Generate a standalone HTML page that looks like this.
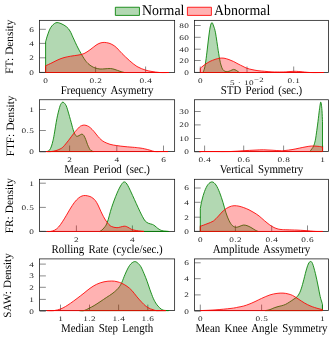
<!DOCTYPE html>
<html><head><meta charset="utf-8"><title>Density</title>
<style>
html,body{margin:0;padding:0;background:#fff;}
body{width:333px;height:339px;overflow:hidden;}
svg{display:block;will-change:transform;text-rendering:geometricPrecision;}
text{font-family:"Liberation Serif",serif;fill:#000;}
.t{font-size:7.0px;letter-spacing:0.3px;fill:#1c1c1c;}
.xl{font-size:10.9px;word-spacing:1.6px;}
.yl{font-size:11.4px;word-spacing:0.4px;}
.lg{font-size:13.9px;}
</style></head><body>
<svg width="333" height="339" viewBox="0 0 333 339">
<rect width="100%" height="100%" fill="#fff"/>
<rect x="39.55" y="20.35" width="135.10" height="52.15" fill="none" stroke="#111" stroke-width="0.75"/>
<line x1="45.60" y1="72.50" x2="45.60" y2="66.50" stroke="#2a2a2a" stroke-width="0.55"/>
<text transform="translate(45.79,82.90) scale(1.32,1)" class="t" text-anchor="middle">0</text>
<line x1="95.60" y1="72.50" x2="95.60" y2="66.50" stroke="#2a2a2a" stroke-width="0.55"/>
<text transform="translate(95.79,82.90) scale(1.32,1)" class="t" text-anchor="middle">0.2</text>
<line x1="145.60" y1="72.50" x2="145.60" y2="66.50" stroke="#2a2a2a" stroke-width="0.55"/>
<text transform="translate(145.79,82.90) scale(1.32,1)" class="t" text-anchor="middle">0.4</text>
<line x1="39.55" y1="72.40" x2="45.85" y2="72.40" stroke="#2a2a2a" stroke-width="0.55"/>
<text transform="translate(34.33,74.85) scale(1.32,1)" class="t" text-anchor="end">0</text>
<line x1="39.55" y1="57.80" x2="45.85" y2="57.80" stroke="#2a2a2a" stroke-width="0.55"/>
<text transform="translate(34.33,60.25) scale(1.32,1)" class="t" text-anchor="end">2</text>
<line x1="39.55" y1="43.40" x2="45.85" y2="43.40" stroke="#2a2a2a" stroke-width="0.55"/>
<text transform="translate(34.33,45.85) scale(1.32,1)" class="t" text-anchor="end">4</text>
<line x1="39.55" y1="29.30" x2="45.85" y2="29.30" stroke="#2a2a2a" stroke-width="0.55"/>
<text transform="translate(34.33,31.75) scale(1.32,1)" class="t" text-anchor="end">6</text>
<path d="M45.60,41.80 C45.93,40.67 46.73,37.40 47.60,35.00 C48.47,32.60 49.43,29.43 50.80,27.40 C52.17,25.37 54.10,23.43 55.80,22.80 C57.50,22.17 59.22,22.93 61.00,23.60 C62.78,24.27 65.00,25.57 66.50,26.80 C68.00,28.03 68.88,29.17 70.00,31.00 C71.12,32.83 71.87,34.97 73.20,37.80 C74.53,40.63 76.20,44.55 78.00,48.00 C79.80,51.45 82.33,55.92 84.00,58.50 C85.67,61.08 86.67,62.17 88.00,63.50 C89.33,64.83 90.73,65.73 92.00,66.50 C93.27,67.27 94.27,67.68 95.60,68.10 C96.93,68.52 98.43,68.88 100.00,69.00 C101.57,69.12 103.25,68.88 105.00,68.80 C106.75,68.72 108.83,68.38 110.50,68.50 C112.17,68.62 113.42,69.03 115.00,69.50 C116.58,69.97 118.43,70.80 120.00,71.30 C121.57,71.80 123.67,72.30 124.40,72.50 L124.40,72.50 L45.60,72.50 Z" fill="#007f00" fill-opacity="0.3" stroke="none"/>
<path d="M45.60,72.50 L45.60,41.80 C45.93,40.67 46.73,37.40 47.60,35.00 C48.47,32.60 49.43,29.43 50.80,27.40 C52.17,25.37 54.10,23.43 55.80,22.80 C57.50,22.17 59.22,22.93 61.00,23.60 C62.78,24.27 65.00,25.57 66.50,26.80 C68.00,28.03 68.88,29.17 70.00,31.00 C71.12,32.83 71.87,34.97 73.20,37.80 C74.53,40.63 76.20,44.55 78.00,48.00 C79.80,51.45 82.33,55.92 84.00,58.50 C85.67,61.08 86.67,62.17 88.00,63.50 C89.33,64.83 90.73,65.73 92.00,66.50 C93.27,67.27 94.27,67.68 95.60,68.10 C96.93,68.52 98.43,68.88 100.00,69.00 C101.57,69.12 103.25,68.88 105.00,68.80 C106.75,68.72 108.83,68.38 110.50,68.50 C112.17,68.62 113.42,69.03 115.00,69.50 C116.58,69.97 118.43,70.80 120.00,71.30 C121.57,71.80 123.67,72.30 124.40,72.50 L45.60,72.50" fill="none" stroke="#007f00" stroke-width="0.85" stroke-linejoin="round"/>
<path d="M45.60,65.80 C46.67,65.30 49.93,63.80 52.00,62.80 C54.07,61.80 56.00,60.67 58.00,59.80 C60.00,58.93 61.90,58.20 64.00,57.60 C66.10,57.00 68.27,56.62 70.60,56.20 C72.93,55.78 75.77,55.53 78.00,55.10 C80.23,54.67 82.00,54.48 84.00,53.60 C86.00,52.72 88.00,51.20 90.00,49.80 C92.00,48.40 94.33,46.32 96.00,45.20 C97.67,44.08 98.63,43.57 100.00,43.10 C101.37,42.63 102.70,42.38 104.20,42.40 C105.70,42.42 107.53,42.77 109.00,43.20 C110.47,43.63 111.70,44.22 113.00,45.00 C114.30,45.78 115.30,46.48 116.80,47.90 C118.30,49.32 119.90,51.40 122.00,53.50 C124.10,55.60 126.90,58.33 129.40,60.50 C131.90,62.67 134.32,64.90 137.00,66.50 C139.68,68.10 143.00,69.27 145.50,70.10 C148.00,70.93 149.63,71.10 152.00,71.50 C154.37,71.90 156.87,72.33 159.70,72.50 C162.53,72.67 167.45,72.50 169.00,72.50 L169.00,72.50 L45.60,72.50 Z" fill="#ff0000" fill-opacity="0.3" stroke="none"/>
<path d="M45.60,72.50 L45.60,65.80 C46.67,65.30 49.93,63.80 52.00,62.80 C54.07,61.80 56.00,60.67 58.00,59.80 C60.00,58.93 61.90,58.20 64.00,57.60 C66.10,57.00 68.27,56.62 70.60,56.20 C72.93,55.78 75.77,55.53 78.00,55.10 C80.23,54.67 82.00,54.48 84.00,53.60 C86.00,52.72 88.00,51.20 90.00,49.80 C92.00,48.40 94.33,46.32 96.00,45.20 C97.67,44.08 98.63,43.57 100.00,43.10 C101.37,42.63 102.70,42.38 104.20,42.40 C105.70,42.42 107.53,42.77 109.00,43.20 C110.47,43.63 111.70,44.22 113.00,45.00 C114.30,45.78 115.30,46.48 116.80,47.90 C118.30,49.32 119.90,51.40 122.00,53.50 C124.10,55.60 126.90,58.33 129.40,60.50 C131.90,62.67 134.32,64.90 137.00,66.50 C139.68,68.10 143.00,69.27 145.50,70.10 C148.00,70.93 149.63,71.10 152.00,71.50 C154.37,71.90 156.87,72.33 159.70,72.50 C162.53,72.67 167.45,72.50 169.00,72.50 L45.60,72.50" fill="none" stroke="#ff0000" stroke-width="0.85" stroke-linejoin="round"/>
<text transform="translate(107.10,93.90) scale(1,1.1)" class="xl" text-anchor="middle">Frequency Asymetry</text>
<text transform="translate(13.00,46.72) rotate(-90)" class="yl" style="font-size:11.27px" text-anchor="middle">FT: Density</text>
<rect x="194.40" y="20.35" width="134.15" height="52.15" fill="none" stroke="#111" stroke-width="0.75"/>
<line x1="200.30" y1="72.50" x2="200.30" y2="66.50" stroke="#2a2a2a" stroke-width="0.55"/>
<text transform="translate(200.49,82.90) scale(1.32,1)" class="t" text-anchor="middle">0</text>
<line x1="247.00" y1="72.50" x2="247.00" y2="66.50" stroke="#2a2a2a" stroke-width="0.55"/>
<text transform="translate(247.00,84.60) scale(1.32,1)" class="t" text-anchor="middle">5 · 10<tspan dy='-2.6' font-size='6.6'>−2</tspan></text>
<line x1="293.70" y1="72.50" x2="293.70" y2="66.50" stroke="#2a2a2a" stroke-width="0.55"/>
<text transform="translate(293.89,82.90) scale(1.32,1)" class="t" text-anchor="middle">0.1</text>
<line x1="194.40" y1="72.40" x2="200.70" y2="72.40" stroke="#2a2a2a" stroke-width="0.55"/>
<text transform="translate(189.18,74.85) scale(1.32,1)" class="t" text-anchor="end">0</text>
<line x1="194.40" y1="60.50" x2="200.70" y2="60.50" stroke="#2a2a2a" stroke-width="0.55"/>
<text transform="translate(189.18,62.95) scale(1.32,1)" class="t" text-anchor="end">20</text>
<line x1="194.40" y1="49.20" x2="200.70" y2="49.20" stroke="#2a2a2a" stroke-width="0.55"/>
<text transform="translate(189.18,51.65) scale(1.32,1)" class="t" text-anchor="end">40</text>
<line x1="194.40" y1="37.30" x2="200.70" y2="37.30" stroke="#2a2a2a" stroke-width="0.55"/>
<text transform="translate(189.18,39.75) scale(1.32,1)" class="t" text-anchor="end">60</text>
<line x1="194.40" y1="25.50" x2="200.70" y2="25.50" stroke="#2a2a2a" stroke-width="0.55"/>
<text transform="translate(189.18,27.95) scale(1.32,1)" class="t" text-anchor="end">80</text>
<path d="M203.00,72.50 C203.27,71.75 204.13,69.92 204.60,68.00 C205.07,66.08 205.37,64.00 205.80,61.00 C206.23,58.00 206.73,53.83 207.20,50.00 C207.67,46.17 208.10,41.83 208.60,38.00 C209.10,34.17 209.65,29.57 210.20,27.00 C210.75,24.43 211.33,22.77 211.90,22.60 C212.47,22.43 213.00,24.30 213.60,26.00 C214.20,27.70 214.73,28.73 215.50,32.80 C216.27,36.87 217.45,45.70 218.20,50.40 C218.95,55.10 219.48,58.40 220.00,61.00 C220.52,63.60 220.85,64.60 221.30,66.00 C221.75,67.40 222.12,68.53 222.70,69.40 C223.28,70.27 224.05,70.82 224.80,71.20 C225.55,71.58 226.25,71.78 227.20,71.70 C228.15,71.62 229.45,71.08 230.50,70.70 C231.55,70.32 232.53,69.45 233.50,69.40 C234.47,69.35 235.35,69.88 236.30,70.40 C237.25,70.92 238.72,72.15 239.20,72.50 L239.20,72.50 L203.00,72.50 Z" fill="#007f00" fill-opacity="0.3" stroke="none"/>
<path d="M203.00,72.50 C203.27,71.75 204.13,69.92 204.60,68.00 C205.07,66.08 205.37,64.00 205.80,61.00 C206.23,58.00 206.73,53.83 207.20,50.00 C207.67,46.17 208.10,41.83 208.60,38.00 C209.10,34.17 209.65,29.57 210.20,27.00 C210.75,24.43 211.33,22.77 211.90,22.60 C212.47,22.43 213.00,24.30 213.60,26.00 C214.20,27.70 214.73,28.73 215.50,32.80 C216.27,36.87 217.45,45.70 218.20,50.40 C218.95,55.10 219.48,58.40 220.00,61.00 C220.52,63.60 220.85,64.60 221.30,66.00 C221.75,67.40 222.12,68.53 222.70,69.40 C223.28,70.27 224.05,70.82 224.80,71.20 C225.55,71.58 226.25,71.78 227.20,71.70 C228.15,71.62 229.45,71.08 230.50,70.70 C231.55,70.32 232.53,69.45 233.50,69.40 C234.47,69.35 235.35,69.88 236.30,70.40 C237.25,70.92 238.72,72.15 239.20,72.50 L203.00,72.50" fill="none" stroke="#007f00" stroke-width="0.85" stroke-linejoin="round"/>
<path d="M200.30,68.30 C200.75,67.92 202.05,66.75 203.00,66.00 C203.95,65.25 204.83,64.57 206.00,63.80 C207.17,63.03 208.50,62.13 210.00,61.40 C211.50,60.67 213.38,59.93 215.00,59.40 C216.62,58.87 218.20,58.40 219.70,58.20 C221.20,58.00 222.45,57.97 224.00,58.20 C225.55,58.43 227.40,59.05 229.00,59.60 C230.60,60.15 232.10,60.78 233.60,61.50 C235.10,62.22 236.43,63.08 238.00,63.90 C239.57,64.72 241.50,65.67 243.00,66.40 C244.50,67.13 245.50,67.77 247.00,68.30 C248.50,68.83 250.17,69.20 252.00,69.60 C253.83,70.00 255.90,70.42 258.00,70.70 C260.10,70.98 262.27,71.10 264.60,71.30 C266.93,71.50 269.10,71.78 272.00,71.90 C274.90,72.02 279.33,72.03 282.00,72.00 C284.67,71.97 286.05,71.82 288.00,71.70 C289.95,71.58 291.70,71.32 293.70,71.30 C295.70,71.28 297.28,71.40 300.00,71.60 C302.72,71.80 306.03,72.35 310.00,72.50 C313.97,72.65 321.50,72.50 323.80,72.50 L323.80,72.50 L200.30,72.50 Z" fill="#ff0000" fill-opacity="0.3" stroke="none"/>
<path d="M200.30,72.50 L200.30,68.30 C200.75,67.92 202.05,66.75 203.00,66.00 C203.95,65.25 204.83,64.57 206.00,63.80 C207.17,63.03 208.50,62.13 210.00,61.40 C211.50,60.67 213.38,59.93 215.00,59.40 C216.62,58.87 218.20,58.40 219.70,58.20 C221.20,58.00 222.45,57.97 224.00,58.20 C225.55,58.43 227.40,59.05 229.00,59.60 C230.60,60.15 232.10,60.78 233.60,61.50 C235.10,62.22 236.43,63.08 238.00,63.90 C239.57,64.72 241.50,65.67 243.00,66.40 C244.50,67.13 245.50,67.77 247.00,68.30 C248.50,68.83 250.17,69.20 252.00,69.60 C253.83,70.00 255.90,70.42 258.00,70.70 C260.10,70.98 262.27,71.10 264.60,71.30 C266.93,71.50 269.10,71.78 272.00,71.90 C274.90,72.02 279.33,72.03 282.00,72.00 C284.67,71.97 286.05,71.82 288.00,71.70 C289.95,71.58 291.70,71.32 293.70,71.30 C295.70,71.28 297.28,71.40 300.00,71.60 C302.72,71.80 306.03,72.35 310.00,72.50 C313.97,72.65 321.50,72.50 323.80,72.50 L200.30,72.50" fill="none" stroke="#ff0000" stroke-width="0.85" stroke-linejoin="round"/>
<text transform="translate(261.48,93.90) scale(1,1.1)" class="xl" text-anchor="middle">STD Period (sec.)</text>
<rect x="39.55" y="99.75" width="135.10" height="51.80" fill="none" stroke="#111" stroke-width="0.75"/>
<line x1="69.60" y1="151.55" x2="69.60" y2="145.55" stroke="#2a2a2a" stroke-width="0.55"/>
<text transform="translate(69.79,161.95) scale(1.32,1)" class="t" text-anchor="middle">2</text>
<line x1="116.80" y1="151.55" x2="116.80" y2="145.55" stroke="#2a2a2a" stroke-width="0.55"/>
<text transform="translate(116.99,161.95) scale(1.32,1)" class="t" text-anchor="middle">4</text>
<line x1="163.50" y1="151.55" x2="163.50" y2="145.55" stroke="#2a2a2a" stroke-width="0.55"/>
<text transform="translate(163.69,161.95) scale(1.32,1)" class="t" text-anchor="middle">6</text>
<line x1="39.55" y1="151.90" x2="45.85" y2="151.90" stroke="#2a2a2a" stroke-width="0.55"/>
<text transform="translate(34.33,154.35) scale(1.32,1)" class="t" text-anchor="end">0</text>
<line x1="39.55" y1="130.50" x2="45.85" y2="130.50" stroke="#2a2a2a" stroke-width="0.55"/>
<text transform="translate(34.33,132.95) scale(1.32,1)" class="t" text-anchor="end">0.5</text>
<line x1="39.55" y1="109.50" x2="45.85" y2="109.50" stroke="#2a2a2a" stroke-width="0.55"/>
<text transform="translate(34.33,111.95) scale(1.32,1)" class="t" text-anchor="end">1</text>
<path d="M47.00,151.55 C47.42,151.33 48.75,151.12 49.50,150.20 C50.25,149.27 50.92,147.62 51.50,146.00 C52.08,144.38 52.55,142.42 53.00,140.50 C53.45,138.58 53.55,138.17 54.20,134.50 C54.85,130.83 56.00,123.03 56.90,118.50 C57.80,113.97 58.87,109.82 59.60,107.30 C60.33,104.78 60.75,104.27 61.30,103.40 C61.85,102.53 62.32,102.07 62.90,102.10 C63.48,102.13 64.15,102.73 64.80,103.60 C65.45,104.47 65.87,104.63 66.80,107.30 C67.73,109.97 69.35,115.90 70.40,119.60 C71.45,123.30 72.35,127.07 73.10,129.50 C73.85,131.93 74.30,133.07 74.90,134.20 C75.50,135.33 76.02,136.07 76.70,136.30 C77.38,136.53 78.15,135.97 79.00,135.60 C79.85,135.23 81.00,134.12 81.80,134.10 C82.60,134.08 83.15,134.62 83.80,135.50 C84.45,136.38 85.08,137.90 85.70,139.40 C86.32,140.90 86.88,142.98 87.50,144.50 C88.12,146.02 88.82,147.48 89.40,148.50 C89.98,149.52 90.32,150.09 91.00,150.60 C91.68,151.11 93.08,151.39 93.50,151.55 L93.50,151.55 L47.00,151.55 Z" fill="#007f00" fill-opacity="0.3" stroke="none"/>
<path d="M47.00,151.55 C47.42,151.33 48.75,151.12 49.50,150.20 C50.25,149.27 50.92,147.62 51.50,146.00 C52.08,144.38 52.55,142.42 53.00,140.50 C53.45,138.58 53.55,138.17 54.20,134.50 C54.85,130.83 56.00,123.03 56.90,118.50 C57.80,113.97 58.87,109.82 59.60,107.30 C60.33,104.78 60.75,104.27 61.30,103.40 C61.85,102.53 62.32,102.07 62.90,102.10 C63.48,102.13 64.15,102.73 64.80,103.60 C65.45,104.47 65.87,104.63 66.80,107.30 C67.73,109.97 69.35,115.90 70.40,119.60 C71.45,123.30 72.35,127.07 73.10,129.50 C73.85,131.93 74.30,133.07 74.90,134.20 C75.50,135.33 76.02,136.07 76.70,136.30 C77.38,136.53 78.15,135.97 79.00,135.60 C79.85,135.23 81.00,134.12 81.80,134.10 C82.60,134.08 83.15,134.62 83.80,135.50 C84.45,136.38 85.08,137.90 85.70,139.40 C86.32,140.90 86.88,142.98 87.50,144.50 C88.12,146.02 88.82,147.48 89.40,148.50 C89.98,149.52 90.32,150.09 91.00,150.60 C91.68,151.11 93.08,151.39 93.50,151.55 L47.00,151.55" fill="none" stroke="#007f00" stroke-width="0.85" stroke-linejoin="round"/>
<path d="M46.10,151.55 C46.92,151.55 49.35,151.71 51.00,151.55 C52.65,151.39 54.50,151.03 56.00,150.60 C57.50,150.17 58.80,149.63 60.00,149.00 C61.20,148.37 61.77,148.25 63.20,146.80 C64.63,145.35 66.80,142.58 68.60,140.30 C70.40,138.02 72.20,135.32 74.00,133.10 C75.80,130.88 78.07,128.27 79.40,127.00 C80.73,125.73 81.15,125.82 82.00,125.50 C82.85,125.18 83.58,125.03 84.50,125.10 C85.42,125.17 86.53,125.47 87.50,125.90 C88.47,126.33 89.22,126.77 90.30,127.70 C91.38,128.63 92.72,130.03 94.00,131.50 C95.28,132.97 96.83,135.15 98.00,136.50 C99.17,137.85 99.97,138.70 101.00,139.60 C102.03,140.50 102.70,141.12 104.20,141.90 C105.70,142.68 107.90,143.68 110.00,144.30 C112.10,144.92 114.30,145.22 116.80,145.60 C119.30,145.98 122.05,146.30 125.00,146.60 C127.95,146.90 132.00,147.17 134.50,147.40 C137.00,147.63 138.33,147.77 140.00,148.00 C141.67,148.23 142.83,148.43 144.50,148.80 C146.17,149.17 148.32,149.74 150.00,150.20 C151.68,150.66 152.93,151.33 154.60,151.55 C156.27,151.78 157.77,151.55 160.00,151.55 C162.23,151.55 166.67,151.55 168.00,151.55 L168.00,151.55 L46.10,151.55 Z" fill="#ff0000" fill-opacity="0.3" stroke="none"/>
<path d="M46.10,151.55 C46.92,151.55 49.35,151.71 51.00,151.55 C52.65,151.39 54.50,151.03 56.00,150.60 C57.50,150.17 58.80,149.63 60.00,149.00 C61.20,148.37 61.77,148.25 63.20,146.80 C64.63,145.35 66.80,142.58 68.60,140.30 C70.40,138.02 72.20,135.32 74.00,133.10 C75.80,130.88 78.07,128.27 79.40,127.00 C80.73,125.73 81.15,125.82 82.00,125.50 C82.85,125.18 83.58,125.03 84.50,125.10 C85.42,125.17 86.53,125.47 87.50,125.90 C88.47,126.33 89.22,126.77 90.30,127.70 C91.38,128.63 92.72,130.03 94.00,131.50 C95.28,132.97 96.83,135.15 98.00,136.50 C99.17,137.85 99.97,138.70 101.00,139.60 C102.03,140.50 102.70,141.12 104.20,141.90 C105.70,142.68 107.90,143.68 110.00,144.30 C112.10,144.92 114.30,145.22 116.80,145.60 C119.30,145.98 122.05,146.30 125.00,146.60 C127.95,146.90 132.00,147.17 134.50,147.40 C137.00,147.63 138.33,147.77 140.00,148.00 C141.67,148.23 142.83,148.43 144.50,148.80 C146.17,149.17 148.32,149.74 150.00,150.20 C151.68,150.66 152.93,151.33 154.60,151.55 C156.27,151.78 157.77,151.55 160.00,151.55 C162.23,151.55 166.67,151.55 168.00,151.55 L46.10,151.55" fill="none" stroke="#ff0000" stroke-width="0.85" stroke-linejoin="round"/>
<text transform="translate(107.10,172.95) scale(1,1.1)" class="xl" text-anchor="middle">Mean Period (sec.)</text>
<text transform="translate(13.50,125.95) rotate(-90)" class="yl" style="font-size:11.27px" text-anchor="middle">FTF: Density</text>
<rect x="194.40" y="99.75" width="134.15" height="51.80" fill="none" stroke="#111" stroke-width="0.75"/>
<line x1="204.60" y1="151.55" x2="204.60" y2="145.55" stroke="#2a2a2a" stroke-width="0.55"/>
<text transform="translate(204.79,161.95) scale(1.32,1)" class="t" text-anchor="middle">0.4</text>
<line x1="243.70" y1="151.55" x2="243.70" y2="145.55" stroke="#2a2a2a" stroke-width="0.55"/>
<text transform="translate(243.89,161.95) scale(1.32,1)" class="t" text-anchor="middle">0.6</text>
<line x1="283.60" y1="151.55" x2="283.60" y2="145.55" stroke="#2a2a2a" stroke-width="0.55"/>
<text transform="translate(283.79,161.95) scale(1.32,1)" class="t" text-anchor="middle">0.8</text>
<line x1="322.70" y1="151.55" x2="322.70" y2="145.55" stroke="#2a2a2a" stroke-width="0.55"/>
<text transform="translate(322.89,161.95) scale(1.32,1)" class="t" text-anchor="middle">1</text>
<line x1="194.40" y1="151.90" x2="200.70" y2="151.90" stroke="#2a2a2a" stroke-width="0.55"/>
<text transform="translate(189.18,154.35) scale(1.32,1)" class="t" text-anchor="end">0</text>
<line x1="194.40" y1="138.50" x2="200.70" y2="138.50" stroke="#2a2a2a" stroke-width="0.55"/>
<text transform="translate(189.18,140.95) scale(1.32,1)" class="t" text-anchor="end">10</text>
<line x1="194.40" y1="124.90" x2="200.70" y2="124.90" stroke="#2a2a2a" stroke-width="0.55"/>
<text transform="translate(189.18,127.35) scale(1.32,1)" class="t" text-anchor="end">20</text>
<line x1="194.40" y1="111.50" x2="200.70" y2="111.50" stroke="#2a2a2a" stroke-width="0.55"/>
<text transform="translate(189.18,113.95) scale(1.32,1)" class="t" text-anchor="end">30</text>
<path d="M309.90,151.55 C310.20,151.12 311.10,149.88 311.70,149.00 C312.30,148.12 312.90,147.75 313.50,146.30 C314.10,144.85 314.75,142.95 315.30,140.30 C315.85,137.65 316.35,133.55 316.80,130.40 C317.25,127.25 317.58,124.70 318.00,121.40 C318.42,118.10 318.95,113.33 319.30,110.60 C319.65,107.87 319.87,106.42 320.10,105.00 C320.33,103.58 320.50,102.27 320.70,102.10 C320.90,101.93 321.08,102.58 321.30,104.00 C321.52,105.42 321.80,107.70 322.00,110.60 C322.20,113.50 322.42,119.60 322.50,121.40 L322.50,151.55 L309.90,151.55 Z" fill="#007f00" fill-opacity="0.3" stroke="none"/>
<path d="M309.90,151.55 C310.20,151.12 311.10,149.88 311.70,149.00 C312.30,148.12 312.90,147.75 313.50,146.30 C314.10,144.85 314.75,142.95 315.30,140.30 C315.85,137.65 316.35,133.55 316.80,130.40 C317.25,127.25 317.58,124.70 318.00,121.40 C318.42,118.10 318.95,113.33 319.30,110.60 C319.65,107.87 319.87,106.42 320.10,105.00 C320.33,103.58 320.50,102.27 320.70,102.10 C320.90,101.93 321.08,102.58 321.30,104.00 C321.52,105.42 321.80,107.70 322.00,110.60 C322.20,113.50 322.42,119.60 322.50,121.40 L322.50,151.55 L309.90,151.55" fill="none" stroke="#007f00" stroke-width="0.85" stroke-linejoin="round"/>
<path d="M199.50,151.55 C202.08,151.55 209.92,151.55 215.00,151.55 C220.08,151.55 225.22,151.69 230.00,151.55 C234.78,151.41 239.53,150.94 243.70,150.70 C247.87,150.46 251.68,150.25 255.00,150.10 C258.32,149.95 260.77,149.78 263.60,149.80 C266.43,149.82 269.27,150.05 272.00,150.20 C274.73,150.35 277.83,150.65 280.00,150.70 C282.17,150.75 283.00,150.68 285.00,150.50 C287.00,150.32 289.58,150.00 292.00,149.60 C294.42,149.20 297.17,148.57 299.50,148.10 C301.83,147.63 303.97,147.15 306.00,146.80 C308.03,146.45 309.70,146.08 311.70,146.00 C313.70,145.92 316.20,146.13 318.00,146.30 C319.80,146.47 321.75,146.88 322.50,147.00 L322.50,151.55 L199.50,151.55 Z" fill="#ff0000" fill-opacity="0.3" stroke="none"/>
<path d="M199.50,151.55 C202.08,151.55 209.92,151.55 215.00,151.55 C220.08,151.55 225.22,151.69 230.00,151.55 C234.78,151.41 239.53,150.94 243.70,150.70 C247.87,150.46 251.68,150.25 255.00,150.10 C258.32,149.95 260.77,149.78 263.60,149.80 C266.43,149.82 269.27,150.05 272.00,150.20 C274.73,150.35 277.83,150.65 280.00,150.70 C282.17,150.75 283.00,150.68 285.00,150.50 C287.00,150.32 289.58,150.00 292.00,149.60 C294.42,149.20 297.17,148.57 299.50,148.10 C301.83,147.63 303.97,147.15 306.00,146.80 C308.03,146.45 309.70,146.08 311.70,146.00 C313.70,145.92 316.20,146.13 318.00,146.30 C319.80,146.47 321.75,146.88 322.50,147.00 L322.50,151.55 L199.50,151.55" fill="none" stroke="#ff0000" stroke-width="0.85" stroke-linejoin="round"/>
<text transform="translate(261.48,172.95) scale(1,1.1)" class="xl" text-anchor="middle">Vertical Symmetry</text>
<rect x="39.55" y="179.30" width="135.10" height="52.15" fill="none" stroke="#111" stroke-width="0.75"/>
<line x1="76.40" y1="231.45" x2="76.40" y2="225.45" stroke="#2a2a2a" stroke-width="0.55"/>
<text transform="translate(76.59,241.85) scale(1.32,1)" class="t" text-anchor="middle">2</text>
<line x1="132.40" y1="231.45" x2="132.40" y2="225.45" stroke="#2a2a2a" stroke-width="0.55"/>
<text transform="translate(132.59,241.85) scale(1.32,1)" class="t" text-anchor="middle">4</text>
<line x1="39.55" y1="231.30" x2="45.85" y2="231.30" stroke="#2a2a2a" stroke-width="0.55"/>
<text transform="translate(34.33,233.75) scale(1.32,1)" class="t" text-anchor="end">0</text>
<line x1="39.55" y1="207.40" x2="45.85" y2="207.40" stroke="#2a2a2a" stroke-width="0.55"/>
<text transform="translate(34.33,209.85) scale(1.32,1)" class="t" text-anchor="end">0.5</text>
<line x1="39.55" y1="183.20" x2="45.85" y2="183.20" stroke="#2a2a2a" stroke-width="0.55"/>
<text transform="translate(34.33,185.65) scale(1.32,1)" class="t" text-anchor="end">1</text>
<path d="M99.90,231.45 C100.42,231.04 101.80,230.43 103.00,229.00 C104.20,227.57 105.67,226.47 107.10,222.90 C108.53,219.33 109.95,212.55 111.60,207.60 C113.25,202.65 115.35,197.07 117.00,193.20 C118.65,189.33 120.23,186.28 121.50,184.40 C122.77,182.52 123.55,181.72 124.60,181.90 C125.65,182.08 126.47,183.23 127.80,185.50 C129.13,187.77 131.20,192.52 132.60,195.50 C134.00,198.48 135.00,200.78 136.20,203.40 C137.40,206.02 138.75,209.00 139.80,211.20 C140.85,213.40 141.60,214.97 142.50,216.60 C143.40,218.23 144.20,219.88 145.20,221.00 C146.20,222.12 147.30,222.73 148.50,223.30 C149.70,223.87 151.32,223.95 152.40,224.40 C153.48,224.85 154.10,225.33 155.00,226.00 C155.90,226.67 156.88,227.73 157.80,228.40 C158.72,229.07 159.60,229.58 160.50,230.00 C161.40,230.42 161.85,230.66 163.20,230.90 C164.55,231.14 167.70,231.36 168.60,231.45 L168.60,231.45 L99.90,231.45 Z" fill="#007f00" fill-opacity="0.3" stroke="none"/>
<path d="M99.90,231.45 C100.42,231.04 101.80,230.43 103.00,229.00 C104.20,227.57 105.67,226.47 107.10,222.90 C108.53,219.33 109.95,212.55 111.60,207.60 C113.25,202.65 115.35,197.07 117.00,193.20 C118.65,189.33 120.23,186.28 121.50,184.40 C122.77,182.52 123.55,181.72 124.60,181.90 C125.65,182.08 126.47,183.23 127.80,185.50 C129.13,187.77 131.20,192.52 132.60,195.50 C134.00,198.48 135.00,200.78 136.20,203.40 C137.40,206.02 138.75,209.00 139.80,211.20 C140.85,213.40 141.60,214.97 142.50,216.60 C143.40,218.23 144.20,219.88 145.20,221.00 C146.20,222.12 147.30,222.73 148.50,223.30 C149.70,223.87 151.32,223.95 152.40,224.40 C153.48,224.85 154.10,225.33 155.00,226.00 C155.90,226.67 156.88,227.73 157.80,228.40 C158.72,229.07 159.60,229.58 160.50,230.00 C161.40,230.42 161.85,230.66 163.20,230.90 C164.55,231.14 167.70,231.36 168.60,231.45 L99.90,231.45" fill="none" stroke="#007f00" stroke-width="0.85" stroke-linejoin="round"/>
<path d="M46.70,231.45 C47.33,231.45 49.15,231.67 50.50,231.45 C51.85,231.22 53.45,230.84 54.80,230.10 C56.15,229.36 57.33,228.38 58.60,227.00 C59.87,225.62 61.15,223.67 62.40,221.80 C63.65,219.93 64.83,217.92 66.10,215.80 C67.37,213.68 68.60,211.35 70.00,209.10 C71.40,206.85 73.07,204.15 74.50,202.30 C75.93,200.45 77.35,199.05 78.60,198.00 C79.85,196.95 80.88,196.42 82.00,196.00 C83.12,195.58 83.97,195.42 85.30,195.50 C86.63,195.58 88.72,196.03 90.00,196.50 C91.28,196.97 92.10,197.62 93.00,198.30 C93.90,198.98 94.57,199.48 95.40,200.60 C96.23,201.72 97.10,203.23 98.00,205.00 C98.90,206.77 99.88,209.25 100.80,211.20 C101.72,213.15 102.60,215.05 103.50,216.70 C104.40,218.35 105.28,219.78 106.20,221.10 C107.12,222.42 108.10,223.70 109.00,224.60 C109.90,225.50 110.27,225.98 111.60,226.50 C112.93,227.02 114.90,227.75 117.00,227.70 C119.10,227.65 122.37,226.27 124.20,226.20 C126.03,226.13 126.80,226.78 128.00,227.30 C129.20,227.82 130.23,228.80 131.40,229.30 C132.57,229.80 133.80,230.03 135.00,230.30 C136.20,230.57 137.10,230.71 138.60,230.90 C140.10,231.09 143.10,231.36 144.00,231.45 L144.00,231.45 L46.70,231.45 Z" fill="#ff0000" fill-opacity="0.3" stroke="none"/>
<path d="M46.70,231.45 C47.33,231.45 49.15,231.67 50.50,231.45 C51.85,231.22 53.45,230.84 54.80,230.10 C56.15,229.36 57.33,228.38 58.60,227.00 C59.87,225.62 61.15,223.67 62.40,221.80 C63.65,219.93 64.83,217.92 66.10,215.80 C67.37,213.68 68.60,211.35 70.00,209.10 C71.40,206.85 73.07,204.15 74.50,202.30 C75.93,200.45 77.35,199.05 78.60,198.00 C79.85,196.95 80.88,196.42 82.00,196.00 C83.12,195.58 83.97,195.42 85.30,195.50 C86.63,195.58 88.72,196.03 90.00,196.50 C91.28,196.97 92.10,197.62 93.00,198.30 C93.90,198.98 94.57,199.48 95.40,200.60 C96.23,201.72 97.10,203.23 98.00,205.00 C98.90,206.77 99.88,209.25 100.80,211.20 C101.72,213.15 102.60,215.05 103.50,216.70 C104.40,218.35 105.28,219.78 106.20,221.10 C107.12,222.42 108.10,223.70 109.00,224.60 C109.90,225.50 110.27,225.98 111.60,226.50 C112.93,227.02 114.90,227.75 117.00,227.70 C119.10,227.65 122.37,226.27 124.20,226.20 C126.03,226.13 126.80,226.78 128.00,227.30 C129.20,227.82 130.23,228.80 131.40,229.30 C132.57,229.80 133.80,230.03 135.00,230.30 C136.20,230.57 137.10,230.71 138.60,230.90 C140.10,231.09 143.10,231.36 144.00,231.45 L46.70,231.45" fill="none" stroke="#ff0000" stroke-width="0.85" stroke-linejoin="round"/>
<text transform="translate(107.10,252.85) scale(1,1.1)" class="xl" text-anchor="middle">Rolling Rate (cycle/sec.)</text>
<text transform="translate(13.30,205.68) rotate(-90)" class="yl" style="font-size:11.27px" text-anchor="middle">FR: Density</text>
<rect x="194.40" y="179.30" width="134.15" height="52.15" fill="none" stroke="#111" stroke-width="0.75"/>
<line x1="200.30" y1="231.45" x2="200.30" y2="225.45" stroke="#2a2a2a" stroke-width="0.55"/>
<text transform="translate(200.49,241.85) scale(1.32,1)" class="t" text-anchor="middle">0</text>
<line x1="235.40" y1="231.45" x2="235.40" y2="225.45" stroke="#2a2a2a" stroke-width="0.55"/>
<text transform="translate(235.59,241.85) scale(1.32,1)" class="t" text-anchor="middle">0.2</text>
<line x1="271.70" y1="231.45" x2="271.70" y2="225.45" stroke="#2a2a2a" stroke-width="0.55"/>
<text transform="translate(271.89,241.85) scale(1.32,1)" class="t" text-anchor="middle">0.4</text>
<line x1="307.50" y1="231.45" x2="307.50" y2="225.45" stroke="#2a2a2a" stroke-width="0.55"/>
<text transform="translate(307.69,241.85) scale(1.32,1)" class="t" text-anchor="middle">0.6</text>
<line x1="194.40" y1="231.30" x2="200.70" y2="231.30" stroke="#2a2a2a" stroke-width="0.55"/>
<text transform="translate(189.18,233.75) scale(1.32,1)" class="t" text-anchor="end">0</text>
<line x1="194.40" y1="217.20" x2="200.70" y2="217.20" stroke="#2a2a2a" stroke-width="0.55"/>
<text transform="translate(189.18,219.65) scale(1.32,1)" class="t" text-anchor="end">2</text>
<line x1="194.40" y1="202.30" x2="200.70" y2="202.30" stroke="#2a2a2a" stroke-width="0.55"/>
<text transform="translate(189.18,204.75) scale(1.32,1)" class="t" text-anchor="end">4</text>
<line x1="194.40" y1="188.00" x2="200.70" y2="188.00" stroke="#2a2a2a" stroke-width="0.55"/>
<text transform="translate(189.18,190.45) scale(1.32,1)" class="t" text-anchor="end">6</text>
<path d="M200.30,208.50 C200.58,207.08 201.30,202.83 202.00,200.00 C202.70,197.17 203.50,194.08 204.50,191.50 C205.50,188.92 206.73,186.10 208.00,184.50 C209.27,182.90 210.77,181.82 212.10,181.90 C213.43,181.98 214.73,183.20 216.00,185.00 C217.27,186.80 218.53,189.78 219.70,192.70 C220.87,195.62 221.95,199.13 223.00,202.50 C224.05,205.87 225.00,209.90 226.00,212.90 C227.00,215.90 227.95,218.40 229.00,220.50 C230.05,222.60 231.12,224.37 232.30,225.50 C233.48,226.63 234.82,227.18 236.10,227.30 C237.38,227.42 238.73,226.58 240.00,226.20 C241.27,225.82 242.37,225.03 243.70,225.00 C245.03,224.97 246.62,225.48 248.00,226.00 C249.38,226.52 250.83,227.43 252.00,228.10 C253.17,228.77 254.00,229.44 255.00,230.00 C256.00,230.56 257.50,231.21 258.00,231.45 L258.00,231.45 L200.30,231.45 Z" fill="#007f00" fill-opacity="0.3" stroke="none"/>
<path d="M200.30,231.45 L200.30,208.50 C200.58,207.08 201.30,202.83 202.00,200.00 C202.70,197.17 203.50,194.08 204.50,191.50 C205.50,188.92 206.73,186.10 208.00,184.50 C209.27,182.90 210.77,181.82 212.10,181.90 C213.43,181.98 214.73,183.20 216.00,185.00 C217.27,186.80 218.53,189.78 219.70,192.70 C220.87,195.62 221.95,199.13 223.00,202.50 C224.05,205.87 225.00,209.90 226.00,212.90 C227.00,215.90 227.95,218.40 229.00,220.50 C230.05,222.60 231.12,224.37 232.30,225.50 C233.48,226.63 234.82,227.18 236.10,227.30 C237.38,227.42 238.73,226.58 240.00,226.20 C241.27,225.82 242.37,225.03 243.70,225.00 C245.03,224.97 246.62,225.48 248.00,226.00 C249.38,226.52 250.83,227.43 252.00,228.10 C253.17,228.77 254.00,229.44 255.00,230.00 C256.00,230.56 257.50,231.21 258.00,231.45 L200.30,231.45" fill="none" stroke="#007f00" stroke-width="0.85" stroke-linejoin="round"/>
<path d="M200.30,226.30 C201.42,225.88 204.82,224.68 207.00,223.80 C209.18,222.92 211.48,222.30 213.40,221.00 C215.32,219.70 216.82,217.73 218.50,216.00 C220.18,214.27 221.75,212.10 223.50,210.60 C225.25,209.10 227.23,207.82 229.00,207.00 C230.77,206.18 232.43,205.83 234.10,205.70 C235.77,205.57 237.40,205.88 239.00,206.20 C240.60,206.52 242.03,207.00 243.70,207.60 C245.37,208.20 247.28,208.97 249.00,209.80 C250.72,210.63 252.32,211.57 254.00,212.60 C255.68,213.63 257.33,214.63 259.10,216.00 C260.87,217.37 262.92,219.38 264.60,220.80 C266.28,222.22 267.80,223.47 269.20,224.50 C270.60,225.53 271.70,226.30 273.00,227.00 C274.30,227.70 275.67,228.28 277.00,228.70 C278.33,229.12 279.33,229.32 281.00,229.50 C282.67,229.68 284.33,229.70 287.00,229.80 C289.67,229.90 294.17,229.98 297.00,230.10 C299.83,230.22 301.75,230.35 304.00,230.50 C306.25,230.65 308.50,230.84 310.50,231.00 C312.50,231.16 313.97,231.38 316.00,231.45 C318.03,231.52 321.58,231.45 322.70,231.45 L322.70,231.45 L200.30,231.45 Z" fill="#ff0000" fill-opacity="0.3" stroke="none"/>
<path d="M200.30,231.45 L200.30,226.30 C201.42,225.88 204.82,224.68 207.00,223.80 C209.18,222.92 211.48,222.30 213.40,221.00 C215.32,219.70 216.82,217.73 218.50,216.00 C220.18,214.27 221.75,212.10 223.50,210.60 C225.25,209.10 227.23,207.82 229.00,207.00 C230.77,206.18 232.43,205.83 234.10,205.70 C235.77,205.57 237.40,205.88 239.00,206.20 C240.60,206.52 242.03,207.00 243.70,207.60 C245.37,208.20 247.28,208.97 249.00,209.80 C250.72,210.63 252.32,211.57 254.00,212.60 C255.68,213.63 257.33,214.63 259.10,216.00 C260.87,217.37 262.92,219.38 264.60,220.80 C266.28,222.22 267.80,223.47 269.20,224.50 C270.60,225.53 271.70,226.30 273.00,227.00 C274.30,227.70 275.67,228.28 277.00,228.70 C278.33,229.12 279.33,229.32 281.00,229.50 C282.67,229.68 284.33,229.70 287.00,229.80 C289.67,229.90 294.17,229.98 297.00,230.10 C299.83,230.22 301.75,230.35 304.00,230.50 C306.25,230.65 308.50,230.84 310.50,231.00 C312.50,231.16 313.97,231.38 316.00,231.45 C318.03,231.52 321.58,231.45 322.70,231.45 L200.30,231.45" fill="none" stroke="#ff0000" stroke-width="0.85" stroke-linejoin="round"/>
<text transform="translate(261.48,252.85) scale(1,1.1)" class="xl" text-anchor="middle">Amplitude Assymetry</text>
<rect x="39.55" y="258.90" width="135.10" height="51.70" fill="none" stroke="#111" stroke-width="0.75"/>
<line x1="60.50" y1="310.60" x2="60.50" y2="304.60" stroke="#2a2a2a" stroke-width="0.55"/>
<text transform="translate(60.69,321.00) scale(1.32,1)" class="t" text-anchor="middle">1</text>
<line x1="89.50" y1="310.60" x2="89.50" y2="304.60" stroke="#2a2a2a" stroke-width="0.55"/>
<text transform="translate(89.69,321.00) scale(1.32,1)" class="t" text-anchor="middle">1.2</text>
<line x1="118.60" y1="310.60" x2="118.60" y2="304.60" stroke="#2a2a2a" stroke-width="0.55"/>
<text transform="translate(118.79,321.00) scale(1.32,1)" class="t" text-anchor="middle">1.4</text>
<line x1="147.80" y1="310.60" x2="147.80" y2="304.60" stroke="#2a2a2a" stroke-width="0.55"/>
<text transform="translate(147.99,321.00) scale(1.32,1)" class="t" text-anchor="middle">1.6</text>
<line x1="39.55" y1="311.30" x2="45.85" y2="311.30" stroke="#2a2a2a" stroke-width="0.55"/>
<text transform="translate(34.33,313.75) scale(1.32,1)" class="t" text-anchor="end">0</text>
<line x1="39.55" y1="299.40" x2="45.85" y2="299.40" stroke="#2a2a2a" stroke-width="0.55"/>
<text transform="translate(34.33,301.85) scale(1.32,1)" class="t" text-anchor="end">1</text>
<line x1="39.55" y1="287.30" x2="45.85" y2="287.30" stroke="#2a2a2a" stroke-width="0.55"/>
<text transform="translate(34.33,289.75) scale(1.32,1)" class="t" text-anchor="end">2</text>
<line x1="39.55" y1="275.90" x2="45.85" y2="275.90" stroke="#2a2a2a" stroke-width="0.55"/>
<text transform="translate(34.33,278.35) scale(1.32,1)" class="t" text-anchor="end">3</text>
<line x1="39.55" y1="264.10" x2="45.85" y2="264.10" stroke="#2a2a2a" stroke-width="0.55"/>
<text transform="translate(34.33,266.55) scale(1.32,1)" class="t" text-anchor="end">4</text>
<path d="M79.50,310.60 C80.25,310.60 82.42,310.98 84.00,310.60 C85.58,310.22 87.32,309.13 89.00,308.30 C90.68,307.47 92.27,306.68 94.10,305.60 C95.93,304.52 97.90,303.18 100.00,301.80 C102.10,300.42 104.70,298.63 106.70,297.30 C108.70,295.97 110.32,295.05 112.00,293.80 C113.68,292.55 115.55,291.00 116.80,289.80 C118.05,288.60 118.67,287.82 119.50,286.60 C120.33,285.38 120.88,284.52 121.80,282.50 C122.72,280.48 123.95,276.93 125.00,274.50 C126.05,272.07 127.10,269.70 128.10,267.90 C129.10,266.10 129.93,264.75 131.00,263.70 C132.07,262.65 133.42,261.75 134.50,261.60 C135.58,261.45 136.45,261.97 137.50,262.80 C138.55,263.63 139.72,264.82 140.80,266.60 C141.88,268.38 142.95,271.05 144.00,273.50 C145.05,275.95 146.10,278.58 147.10,281.30 C148.10,284.02 148.95,286.92 150.00,289.80 C151.05,292.68 152.32,296.20 153.40,298.60 C154.48,301.00 155.45,302.67 156.50,304.20 C157.55,305.73 158.62,306.82 159.70,307.80 C160.78,308.78 161.52,309.63 163.00,310.10 C164.48,310.57 167.67,310.52 168.60,310.60 L168.60,310.60 L79.50,310.60 Z" fill="#007f00" fill-opacity="0.3" stroke="none"/>
<path d="M79.50,310.60 C80.25,310.60 82.42,310.98 84.00,310.60 C85.58,310.22 87.32,309.13 89.00,308.30 C90.68,307.47 92.27,306.68 94.10,305.60 C95.93,304.52 97.90,303.18 100.00,301.80 C102.10,300.42 104.70,298.63 106.70,297.30 C108.70,295.97 110.32,295.05 112.00,293.80 C113.68,292.55 115.55,291.00 116.80,289.80 C118.05,288.60 118.67,287.82 119.50,286.60 C120.33,285.38 120.88,284.52 121.80,282.50 C122.72,280.48 123.95,276.93 125.00,274.50 C126.05,272.07 127.10,269.70 128.10,267.90 C129.10,266.10 129.93,264.75 131.00,263.70 C132.07,262.65 133.42,261.75 134.50,261.60 C135.58,261.45 136.45,261.97 137.50,262.80 C138.55,263.63 139.72,264.82 140.80,266.60 C141.88,268.38 142.95,271.05 144.00,273.50 C145.05,275.95 146.10,278.58 147.10,281.30 C148.10,284.02 148.95,286.92 150.00,289.80 C151.05,292.68 152.32,296.20 153.40,298.60 C154.48,301.00 155.45,302.67 156.50,304.20 C157.55,305.73 158.62,306.82 159.70,307.80 C160.78,308.78 161.52,309.63 163.00,310.10 C164.48,310.57 167.67,310.52 168.60,310.60 L79.50,310.60" fill="none" stroke="#007f00" stroke-width="0.85" stroke-linejoin="round"/>
<path d="M46.70,310.60 C47.92,310.60 51.70,310.87 54.00,310.60 C56.30,310.33 58.58,309.68 60.50,309.00 C62.42,308.32 63.82,307.47 65.50,306.50 C67.18,305.53 68.68,304.53 70.60,303.20 C72.52,301.87 74.77,300.18 77.00,298.50 C79.23,296.82 81.83,294.80 84.00,293.10 C86.17,291.40 87.90,289.77 90.00,288.30 C92.10,286.83 94.27,285.38 96.60,284.30 C98.93,283.22 101.48,282.35 104.00,281.80 C106.52,281.25 109.53,281.02 111.70,281.00 C113.87,280.98 115.32,281.32 117.00,281.70 C118.68,282.08 120.13,282.53 121.80,283.30 C123.47,284.07 125.32,285.10 127.00,286.30 C128.68,287.50 130.23,288.73 131.90,290.50 C133.57,292.27 135.32,294.90 137.00,296.90 C138.68,298.90 140.63,301.05 142.00,302.50 C143.37,303.95 144.20,304.75 145.20,305.60 C146.20,306.45 147.10,307.05 148.00,307.60 C148.90,308.15 149.77,308.55 150.60,308.90 C151.43,309.25 152.10,309.42 153.00,309.70 C153.90,309.98 154.83,310.45 156.00,310.60 C157.17,310.75 158.37,310.60 160.00,310.60 C161.63,310.60 164.83,310.60 165.80,310.60 L165.80,310.60 L46.70,310.60 Z" fill="#ff0000" fill-opacity="0.3" stroke="none"/>
<path d="M46.70,310.60 C47.92,310.60 51.70,310.87 54.00,310.60 C56.30,310.33 58.58,309.68 60.50,309.00 C62.42,308.32 63.82,307.47 65.50,306.50 C67.18,305.53 68.68,304.53 70.60,303.20 C72.52,301.87 74.77,300.18 77.00,298.50 C79.23,296.82 81.83,294.80 84.00,293.10 C86.17,291.40 87.90,289.77 90.00,288.30 C92.10,286.83 94.27,285.38 96.60,284.30 C98.93,283.22 101.48,282.35 104.00,281.80 C106.52,281.25 109.53,281.02 111.70,281.00 C113.87,280.98 115.32,281.32 117.00,281.70 C118.68,282.08 120.13,282.53 121.80,283.30 C123.47,284.07 125.32,285.10 127.00,286.30 C128.68,287.50 130.23,288.73 131.90,290.50 C133.57,292.27 135.32,294.90 137.00,296.90 C138.68,298.90 140.63,301.05 142.00,302.50 C143.37,303.95 144.20,304.75 145.20,305.60 C146.20,306.45 147.10,307.05 148.00,307.60 C148.90,308.15 149.77,308.55 150.60,308.90 C151.43,309.25 152.10,309.42 153.00,309.70 C153.90,309.98 154.83,310.45 156.00,310.60 C157.17,310.75 158.37,310.60 160.00,310.60 C161.63,310.60 164.83,310.60 165.80,310.60 L46.70,310.60" fill="none" stroke="#ff0000" stroke-width="0.85" stroke-linejoin="round"/>
<text transform="translate(107.10,332.00) scale(1,1.1)" class="xl" text-anchor="middle">Median Step Length</text>
<text transform="translate(11.10,285.45) rotate(-90)" class="yl" style="font-size:11.15px" text-anchor="middle">SAW: Density</text>
<rect x="194.40" y="258.90" width="134.15" height="51.70" fill="none" stroke="#111" stroke-width="0.75"/>
<line x1="200.30" y1="310.60" x2="200.30" y2="304.60" stroke="#2a2a2a" stroke-width="0.55"/>
<text transform="translate(200.49,321.00) scale(1.32,1)" class="t" text-anchor="middle">0</text>
<line x1="261.60" y1="310.60" x2="261.60" y2="304.60" stroke="#2a2a2a" stroke-width="0.55"/>
<text transform="translate(261.79,321.00) scale(1.32,1)" class="t" text-anchor="middle">0.5</text>
<line x1="322.40" y1="310.60" x2="322.40" y2="304.60" stroke="#2a2a2a" stroke-width="0.55"/>
<text transform="translate(322.59,321.00) scale(1.32,1)" class="t" text-anchor="middle">1</text>
<line x1="194.40" y1="311.30" x2="200.70" y2="311.30" stroke="#2a2a2a" stroke-width="0.55"/>
<text transform="translate(189.18,313.75) scale(1.32,1)" class="t" text-anchor="end">0</text>
<line x1="194.40" y1="294.90" x2="200.70" y2="294.90" stroke="#2a2a2a" stroke-width="0.55"/>
<text transform="translate(189.18,297.35) scale(1.32,1)" class="t" text-anchor="end">2</text>
<line x1="194.40" y1="278.70" x2="200.70" y2="278.70" stroke="#2a2a2a" stroke-width="0.55"/>
<text transform="translate(189.18,281.15) scale(1.32,1)" class="t" text-anchor="end">4</text>
<line x1="194.40" y1="262.80" x2="200.70" y2="262.80" stroke="#2a2a2a" stroke-width="0.55"/>
<text transform="translate(189.18,265.25) scale(1.32,1)" class="t" text-anchor="end">6</text>
<path d="M265.40,310.60 C266.17,310.43 268.53,310.07 270.00,309.60 C271.47,309.13 272.87,308.30 274.20,307.80 C275.53,307.30 276.73,306.95 278.00,306.60 C279.27,306.25 280.55,306.07 281.80,305.70 C283.05,305.33 284.23,305.00 285.50,304.40 C286.77,303.80 287.98,303.00 289.40,302.10 C290.82,301.20 292.65,299.97 294.00,299.00 C295.35,298.03 296.42,297.67 297.50,296.30 C298.58,294.93 299.55,293.18 300.50,290.80 C301.45,288.42 302.28,285.30 303.20,282.00 C304.12,278.70 305.15,274.00 306.00,271.00 C306.85,268.00 307.57,265.58 308.30,264.00 C309.03,262.42 309.70,261.58 310.40,261.50 C311.10,261.42 311.67,261.50 312.50,263.50 C313.33,265.50 314.50,269.92 315.40,273.50 C316.30,277.08 317.10,281.17 317.90,285.00 C318.70,288.83 319.55,293.67 320.20,296.50 C320.85,299.33 321.42,300.67 321.80,302.00 C322.18,303.33 322.38,304.08 322.50,304.50 L322.50,310.60 L265.40,310.60 Z" fill="#007f00" fill-opacity="0.3" stroke="none"/>
<path d="M265.40,310.60 C266.17,310.43 268.53,310.07 270.00,309.60 C271.47,309.13 272.87,308.30 274.20,307.80 C275.53,307.30 276.73,306.95 278.00,306.60 C279.27,306.25 280.55,306.07 281.80,305.70 C283.05,305.33 284.23,305.00 285.50,304.40 C286.77,303.80 287.98,303.00 289.40,302.10 C290.82,301.20 292.65,299.97 294.00,299.00 C295.35,298.03 296.42,297.67 297.50,296.30 C298.58,294.93 299.55,293.18 300.50,290.80 C301.45,288.42 302.28,285.30 303.20,282.00 C304.12,278.70 305.15,274.00 306.00,271.00 C306.85,268.00 307.57,265.58 308.30,264.00 C309.03,262.42 309.70,261.58 310.40,261.50 C311.10,261.42 311.67,261.50 312.50,263.50 C313.33,265.50 314.50,269.92 315.40,273.50 C316.30,277.08 317.10,281.17 317.90,285.00 C318.70,288.83 319.55,293.67 320.20,296.50 C320.85,299.33 321.42,300.67 321.80,302.00 C322.18,303.33 322.38,304.08 322.50,304.50 L322.50,310.60 L265.40,310.60" fill="none" stroke="#007f00" stroke-width="0.85" stroke-linejoin="round"/>
<path d="M200.30,310.60 C202.75,310.48 209.88,310.27 215.00,309.90 C220.12,309.53 227.17,308.85 231.00,308.40 C234.83,307.95 235.88,307.60 238.00,307.20 C240.12,306.80 241.87,306.50 243.70,306.00 C245.53,305.50 247.12,304.93 249.00,304.20 C250.88,303.47 252.90,302.57 255.00,301.60 C257.10,300.63 259.10,299.52 261.60,298.40 C264.10,297.28 267.43,295.73 270.00,294.90 C272.57,294.07 274.83,293.70 277.00,293.40 C279.17,293.10 281.17,293.02 283.00,293.10 C284.83,293.18 286.42,293.52 288.00,293.90 C289.58,294.28 290.83,294.58 292.50,295.40 C294.17,296.22 296.00,297.53 298.00,298.80 C300.00,300.07 302.50,301.83 304.50,303.00 C306.50,304.17 308.32,305.05 310.00,305.80 C311.68,306.55 313.10,307.00 314.60,307.50 C316.10,308.00 317.68,308.45 319.00,308.80 C320.32,309.15 321.92,309.47 322.50,309.60 L322.50,310.60 L200.30,310.60 Z" fill="#ff0000" fill-opacity="0.3" stroke="none"/>
<path d="M200.30,310.60 C202.75,310.48 209.88,310.27 215.00,309.90 C220.12,309.53 227.17,308.85 231.00,308.40 C234.83,307.95 235.88,307.60 238.00,307.20 C240.12,306.80 241.87,306.50 243.70,306.00 C245.53,305.50 247.12,304.93 249.00,304.20 C250.88,303.47 252.90,302.57 255.00,301.60 C257.10,300.63 259.10,299.52 261.60,298.40 C264.10,297.28 267.43,295.73 270.00,294.90 C272.57,294.07 274.83,293.70 277.00,293.40 C279.17,293.10 281.17,293.02 283.00,293.10 C284.83,293.18 286.42,293.52 288.00,293.90 C289.58,294.28 290.83,294.58 292.50,295.40 C294.17,296.22 296.00,297.53 298.00,298.80 C300.00,300.07 302.50,301.83 304.50,303.00 C306.50,304.17 308.32,305.05 310.00,305.80 C311.68,306.55 313.10,307.00 314.60,307.50 C316.10,308.00 317.68,308.45 319.00,308.80 C320.32,309.15 321.92,309.47 322.50,309.60 L322.50,310.60 L200.30,310.60" fill="none" stroke="#ff0000" stroke-width="0.85" stroke-linejoin="round"/>
<text transform="translate(261.48,332.00) scale(1,1.1)" class="xl" text-anchor="middle">Mean Knee Angle Symmetry</text>
<rect x="115.35" y="7.25" width="24.1" height="8.15" fill="#007f00" fill-opacity="0.3" stroke="#007f00" stroke-width="0.85" stroke-linejoin="round"/>
<text transform="translate(142.0,15.0) scale(1,1.06)" class="lg">Normal</text>
<rect x="187.4" y="7.25" width="24.0" height="8.15" fill="#ff0000" fill-opacity="0.3" stroke="#ff0000" stroke-width="0.85" stroke-linejoin="round"/>
<text transform="translate(214.0,15.0) scale(1,1.06)" class="lg">Abnormal</text>
</svg>
</body></html>
